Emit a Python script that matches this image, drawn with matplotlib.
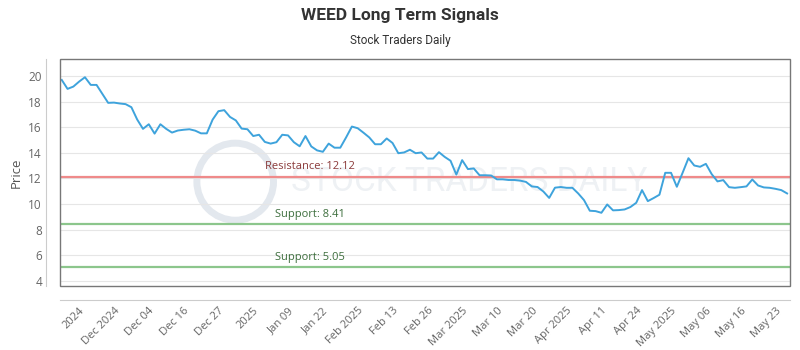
import numpy as np
import matplotlib.pyplot as plt
from matplotlib.patches import Rectangle, Ellipse

# Valores (preço de fechamento, um ponto por período)
prices = [
    19.69, 18.99, 19.17, 19.56, 19.90, 19.30, 19.30, 18.60, 17.90, 17.92, 17.85,
    17.80, 17.56, 16.60, 15.87, 16.23, 15.50, 16.23, 15.87, 15.58, 15.74, 15.80,
    15.84, 15.73, 15.52, 15.52, 16.59, 17.25, 17.33, 16.80, 16.53, 15.89, 15.84,
    15.31, 15.41, 14.85, 14.72, 14.83, 15.41, 15.36, 14.83, 14.51, 15.31,
    14.50, 14.19, 14.08, 14.72, 14.40, 14.40, 15.20, 16.05, 15.92, 15.57, 15.20,
    14.67, 14.67, 15.12, 14.77, 13.97, 14.03, 14.24, 13.97, 14.03, 13.55, 13.55,
    14.05, 13.68, 13.38, 12.30, 13.43, 12.73, 12.78, 12.25, 12.25, 12.23, 11.93,
    11.93, 11.88, 11.88, 11.83, 11.73, 11.38, 11.33, 10.98, 10.48, 11.28, 11.33,
    11.27, 11.27, 10.83, 10.31, 9.48, 9.45, 9.32, 9.97, 9.51, 9.53, 9.58,
    9.77, 10.10, 11.09, 10.23, 10.47, 10.73, 12.44, 12.44, 11.35, 12.45,
    13.58, 13.01, 12.91, 13.14, 12.34, 11.77, 11.87, 11.32, 11.27, 11.32, 11.38,
    11.92, 11.45, 11.30, 11.27, 11.19, 11.09, 10.83,
]

tick_labels = ['2024', 'Dec 2024', 'Dec 04', 'Dec 16', 'Dec 27', '2025', 'Jan 09',
               'Jan 22', 'Feb 2025', 'Feb 13', 'Feb 26', 'Mar 2025', 'Mar 10',
               'Mar 20', 'Apr 2025', 'Apr 11', 'Apr 24', 'May 2025', 'May 06',
               'May 16', 'May 23']

resistance = 12.12
supports = [8.41, 5.05]

x = np.arange(len(prices))
tick_pos = np.arange(len(tick_labels)) * 6 + 3

fig = plt.figure(figsize=(8, 3.5), dpi=100)
ax = fig.add_axes([0.075, 0.183, 0.9125, 0.6476])

# eixos afastados (tem que vir antes dos rótulos: set_position recria os ticks)
for side in ['top', 'right']:
    ax.spines[side].set_visible(False)
for side in ['left', 'bottom']:
    ax.spines[side].set_position(('outward', 10))
    ax.spines[side].set_color('#cccccc')
# borda da área do gráfico
ax.add_patch(Rectangle((0, 0), 1, 1, transform=ax.transAxes, fill=False,
                       edgecolor='#777777', lw=1, clip_on=False, zorder=4))

# marca d'água (logo + texto bem claros)
ax.add_patch(Ellipse((0.24, 0.46), 0.105, 0.34, transform=ax.transAxes, fill=False,
                     edgecolor='#e3e8ee', lw=5, zorder=0))
ax.text(0.56, 0.46, 'STOCK TRADERS DAILY', transform=ax.transAxes, ha='center',
        va='center', fontsize=24, color='#eef1f4', family='Roboto', zorder=0)

ax.plot(x, prices, color='#3ea3dc', lw=1.4, zorder=3)

# linhas de resistência / suporte
ax.axhline(resistance, color='#ef8a8a', lw=1.6, zorder=2)
ax.text(0.342, resistance + 0.35, f'Resistance: {resistance}', color='#8b3a3a',
        ha='center', va='bottom', fontsize=8, family='Open Sans',
        transform=ax.get_yaxis_transform())
for s in supports:
    ax.axhline(s, color='#8cc68c', lw=1.6, zorder=2)
    ax.text(0.342, s + 0.35, f'Support: {s}', color='#3d6e3d',
            ha='center', va='bottom', fontsize=8, family='Open Sans',
            transform=ax.get_yaxis_transform())

ax.set_xlim(-0.3, len(prices) - 0.5)
ax.set_ylim(3.61, 21.3)

ax.tick_params(length=0)
ax.tick_params(axis='x', pad=4)
ax.tick_params(axis='y', pad=3, labelsize=8.5, labelcolor='#666666')

ax.set_yticks(range(4, 21, 2))
ax.set_xticks(tick_pos)
ax.set_xticklabels(tick_labels, rotation=45, ha='right', rotation_mode='anchor',
                   family='Open Sans', fontsize=8, color='#666666')
for lbl in ax.get_yticklabels():
    lbl.set_family('Open Sans')

ax.grid(axis='y', color='#e6e6e6', lw=0.8)
ax.set_axisbelow(True)

ax.set_ylabel('Price', fontsize=9.5, color='#555555', family='Open Sans', labelpad=4)

fig.text(0.5, 0.955, 'WEED Long Term Signals', ha='center', va='center',
         fontsize=12.5, fontweight='bold', color='#333333', family='Roboto')
fig.text(0.5, 0.885, 'Stock Traders Daily', ha='center', va='center',
         fontsize=8.5, color='#333333', family='Roboto')

fig.savefig('out.png', dpi=100)
